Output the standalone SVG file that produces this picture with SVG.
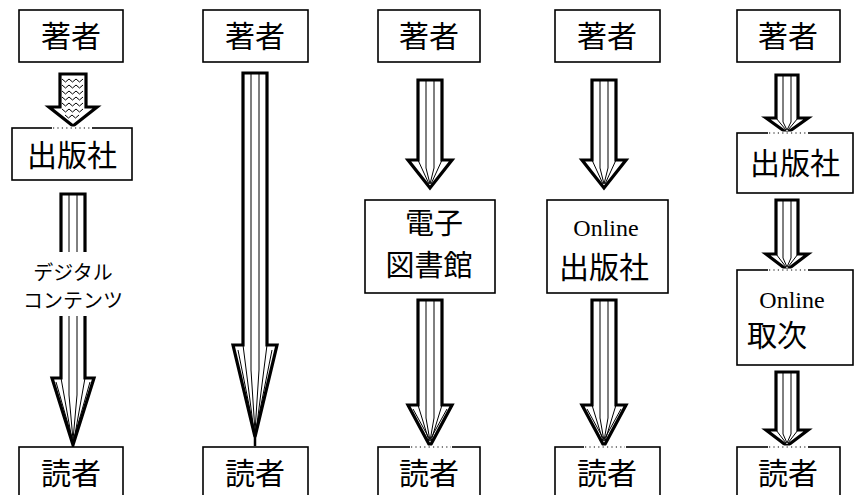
<svg xmlns="http://www.w3.org/2000/svg" width="854" height="495" viewBox="0 0 854 495">
<style>
.box{fill:#fff;stroke:#000;stroke-width:1.6}
.t{font-family:"Noto Sans CJK JP","Noto Sans",sans-serif;font-size:30px;fill:#000;text-anchor:middle}
.m{font-family:"Noto Sans CJK JP","Noto Sans",sans-serif;font-size:29px;fill:#000;text-anchor:middle}
.s{font-family:"Noto Sans CJK JP","Noto Sans",sans-serif;font-size:20px;fill:#000;text-anchor:middle}
.e{font-family:"Liberation Serif",serif;font-size:24px;fill:#000;text-anchor:middle}
.ar{fill:#fff;stroke:#000;stroke-width:3.2;stroke-linejoin:miter}
.in{fill:none;stroke:#000;stroke-width:1}
.dot{stroke:#000;stroke-width:1.2;stroke-dasharray:1.2 3.2}
.wh{stroke:#fff;stroke-width:3}
.wv{fill:none;stroke:#000;stroke-width:1}
</style>
<g id="connectors">
  <g id="a1">
    <path class="ar" d="M60,74 H86 V107 H97 L73,126 L49,107 H60 Z"/>
    <path class="wv" d="M62,79 l3.5,3 l3.5,-3 l3.5,3 l3.5,-3 l3.5,3 l3.5,-3 M62,85 l3.5,3 l3.5,-3 l3.5,3 l3.5,-3 l3.5,3 l3.5,-3 M62,91 l3.5,3 l3.5,-3 l3.5,3 l3.5,-3 l3.5,3 l3.5,-3 M62,97 l3.5,3 l3.5,-3 l3.5,3 l3.5,-3 l3.5,3 l3.5,-3 M62,103 l3.5,3 l3.5,-3 l3.5,3 l3.5,-3 l3.5,3 l3.5,-3 M62,109 l3.5,3 l3.5,-3 l3.5,3 l3.5,-3 l3.5,3 l3.5,-3 M65,115 l3.5,3 l3.5,-3 l3.5,3 l3.5,-3"/>
  </g>
  <g id="a2">
    <path class="ar" d="M61,194 H85 V378 H94 L73,445 L52,378 H61 Z"/>
    <path class="in" d="M69,194 V395 L73,440 M77,194 V395 L73,440 M61,378 L72,440 M85,378 L74,440 M56,382 L72,438 M90,382 L74,438"/>
  </g>
  <g id="a3">
    <path class="ar" d="M243,73 H267 V345 H277 L255,437 L233,345 H243 Z"/>
    <path class="in" d="M251,73 V370 L255,432 M259,73 V370 L255,432 M243,345 L254,432 M267,345 L256,432 M238,350 L254,430 M272,350 L256,430"/>
    <line x1="255" y1="437" x2="255" y2="446" stroke="#000" stroke-width="2.5"/>
  </g>
  <g id="a4">
    <path class="ar" d="M418,80 H442 V160 H452 L430,188 L408,160 H418 Z"/>
    <path class="in" d="M426,80 V168 L430,184 M434,80 V168 L430,184 M418,160 L429,184 M442,160 L431,184"/>
  </g>
  <g id="a5">
    <path class="ar" d="M418,300 H442 V405 H452 L430,446 L408,405 H418 Z"/>
    <path class="in" d="M426,300 V418 L430,441 M434,300 V418 L430,441 M418,405 L429,441 M442,405 L431,441 M413,409 L429,438 M447,409 L431,438"/>
  </g>
  <g id="a6">
    <path class="ar" d="M592,80 H616 V160 H626 L604,188 L582,160 H592 Z"/>
    <path class="in" d="M600,80 V168 L604,184 M608,80 V168 L604,184 M592,160 L603,184 M616,160 L605,184"/>
  </g>
  <g id="a7">
    <path class="ar" d="M592,300 H616 V405 H626 L604,446 L582,405 H592 Z"/>
    <path class="in" d="M600,300 V418 L604,441 M608,300 V418 L604,441 M592,405 L603,441 M616,405 L605,441 M587,409 L603,438 M621,409 L605,438"/>
  </g>
  <g id="a8">
    <path class="ar" d="M776,75 H798 V118 H808 L787,133 L766,118 H776 Z"/>
    <path class="in" d="M783,75 V122 L787,130 M791,75 V122 L787,130 M776,118 L786,130 M798,118 L788,130"/>
  </g>
  <g id="a9">
    <path class="ar" d="M776,200 H798 V254 H808 L787,270 L766,254 H776 Z"/>
    <path class="in" d="M783,200 V258 L787,267 M791,200 V258 L787,267 M776,254 L786,267 M798,254 L788,267"/>
  </g>
  <g id="a10">
    <path class="ar" d="M776,372 H798 V430 H808 L787,446 L766,430 H776 Z"/>
    <path class="in" d="M783,372 V434 L787,443 M791,372 V434 L787,443 M776,430 L786,443 M798,430 L788,443"/>
  </g>
</g>
<g id="label1">
  <rect x="22" y="252" width="102" height="64" fill="#fff"/>
  <text class="s" x="73" y="280">デジタル</text>
  <text class="s" x="73" y="308">コンテンツ</text>
</g>
<g id="n1"><rect class="box" x="19" y="10" width="104" height="52"/><text class="t" x="71" y="47">著者</text></g>
<g id="n2"><rect class="box" x="12" y="128" width="120" height="52"/><line class="wh" x1="52" y1="128" x2="92" y2="128"/><line class="dot" x1="53" y1="128" x2="92" y2="128"/><text class="t" x="72" y="166">出版社</text></g>
<g id="n3"><rect class="box" x="19" y="447" width="104" height="60"/><text class="t" x="71" y="484">読者</text></g>
<g id="n4"><rect class="box" x="203" y="10" width="105" height="52"/><text class="t" x="255" y="47">著者</text></g>
<g id="n5"><rect class="box" x="203" y="447" width="105" height="60"/><text class="t" x="255" y="484">読者</text></g>
<g id="n6"><rect class="box" x="378" y="10" width="102" height="52"/><text class="t" x="429" y="47">著者</text></g>
<g id="n7"><rect class="box" x="365" y="200" width="130" height="93"/><text class="m" x="434" y="234">電子</text><text class="m" x="429" y="276">図書館</text></g>
<g id="n8"><rect class="box" x="378" y="447" width="102" height="60"/><line class="wh" x1="410" y1="447" x2="452" y2="447"/><line class="dot" x1="411" y1="447" x2="451" y2="447"/><text class="t" x="429" y="484">読者</text></g>
<g id="n9"><rect class="box" x="555" y="10" width="105" height="52"/><text class="t" x="607" y="47">著者</text></g>
<g id="n10"><rect class="box" x="547" y="200" width="121" height="93"/><text class="e" x="606" y="236">Online</text><text class="t" x="604" y="278">出版社</text></g>
<g id="n11"><rect class="box" x="555" y="447" width="105" height="60"/><line class="wh" x1="584" y1="447" x2="626" y2="447"/><line class="dot" x1="585" y1="447" x2="625" y2="447"/><text class="t" x="607" y="484">読者</text></g>
<g id="n12"><rect class="box" x="737" y="10" width="103" height="52"/><text class="t" x="788" y="47">著者</text></g>
<g id="n13"><rect class="box" x="737" y="133" width="116" height="60"/><line class="wh" x1="768" y1="133" x2="808" y2="133"/><line class="dot" x1="769" y1="133" x2="807" y2="133"/><text class="t" x="795" y="174">出版社</text></g>
<g id="n14"><rect class="box" x="737" y="270" width="116" height="95"/><line class="wh" x1="768" y1="270" x2="808" y2="270"/><line class="dot" x1="769" y1="270" x2="807" y2="270"/><text class="e" x="792" y="308">Online</text><text class="t" x="777" y="346">取次</text></g>
<g id="n15"><rect class="box" x="737" y="447" width="103" height="60"/><line class="wh" x1="768" y1="447" x2="808" y2="447"/><line class="dot" x1="769" y1="447" x2="807" y2="447"/><text class="t" x="788" y="484">読者</text></g>
</svg>
